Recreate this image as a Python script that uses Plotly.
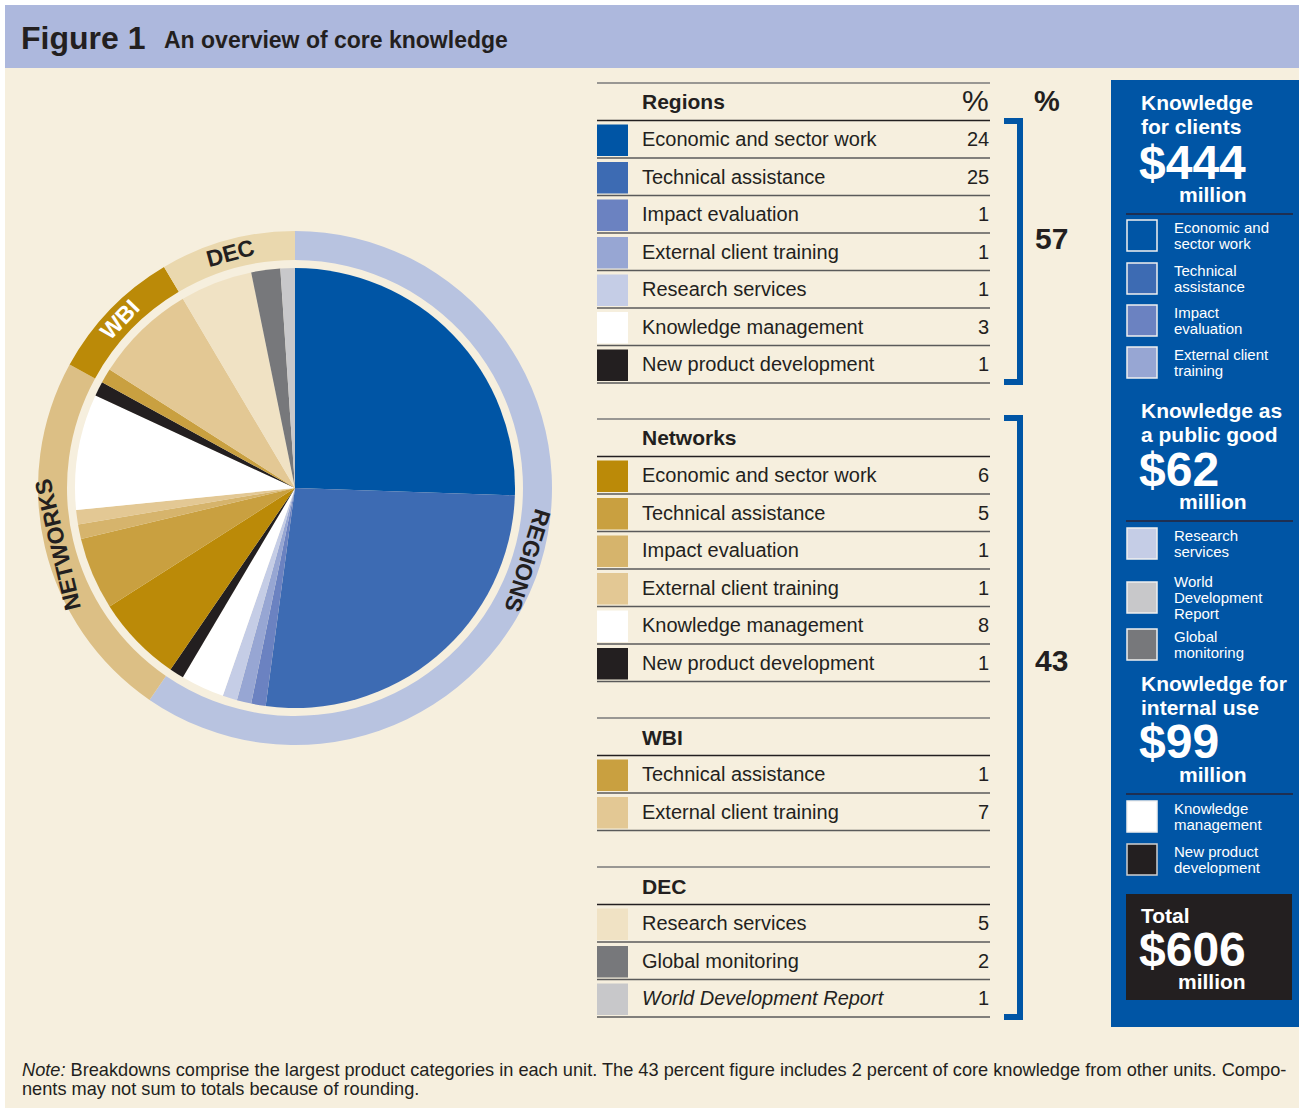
import plotly.graph_objects as go
import math

W, H = 1299, 1110

# ---------------- data ----------------
regions_items = ["Economic and sector work", "Technical assistance", "Impact evaluation",
                 "External client training", "Research services", "Knowledge management",
                 "New product development"]
regions_vals = [24, 25, 1, 1, 1, 3, 1]

networks_items = ["Economic and sector work", "Technical assistance", "Impact evaluation",
                  "External client training", "Knowledge management", "New product development"]
networks_vals = [6, 5, 1, 1, 8, 1]

wbi_items = ["Technical assistance", "External client training"]
wbi_vals = [1, 7]

dec_items = ["Research services", "Global monitoring", "<i>World Development Report</i>"]
dec_vals = [5, 2, 1]

group_names = ["Regions", "Networks", "WBI", "DEC"]
ring_labels = ["REGIONS", "NETWORKS", "WBI", "DEC"]
bracket_pcts = [57, 43]

panel_titles = [["Knowledge", "for clients"], ["Knowledge as", "a public good"],
                ["Knowledge for", "internal use"]]
panel_amounts = [444, 62, 99]
panel_items = [
    [["Economic and", "sector work"], ["Technical", "assistance"], ["Impact", "evaluation"],
     ["External client", "training"]],
    [["Research", "services"], ["World", "Development", "Report"], ["Global", "monitoring"]],
    [["Knowledge", "management"], ["New product", "development"]],
]
total_amount = 606

note_lines = [
    "<i>Note:</i> Breakdowns comprise the largest product categories in each unit. The 43 percent figure includes 2 percent of core knowledge from other units. Compo-",
    "nents may not sum to totals because of rounding.",
]

# ---------------- styles ----------------
BG = "#f6efde"
INK = "#231f20"
BLUE = "#0055a5"
SANS = "Liberation Sans, Arial, sans-serif"
NARROW = "Liberation Sans Narrow, Arial Narrow, Liberation Sans, sans-serif"

regions_colors = ["#0055a5", "#3d6bb3", "#6b82c1", "#97a6d3", "#c5cde6", "#ffffff", INK]
networks_colors = ["#bb8a08", "#c9a040", "#d6b46c", "#e3c894", "#ffffff", INK]
wbi_colors = ["#c9a040", "#e3c894"]
dec_colors = ["#f0e2c4", "#77787b", "#c8c8ca"]
ring_colors = ["#b8c3e0", "#dcbf85", "#bb8a08", "#ead8ae"]
ring_text_colors = [INK, INK, "#ffffff", INK]

panel_colors = [["#0055a5", "#3d6bb3", "#6b82c1", "#97a6d3"],
                ["#c5cde6", "#c8c8ca", "#77787b"],
                ["#ffffff", INK]]

def X(x):
    return x / W

def Y(y):
    return 1 - y / H

fig = go.Figure()
shapes = []
annos = []

def rect(x0, y0, x1, y1, fill, line=None, lw=0, layer="above"):
    shapes.append(dict(type="rect", xref="paper", yref="paper", x0=X(x0), x1=X(x1),
                       y0=Y(y1), y1=Y(y0), fillcolor=fill, layer=layer,
                       line=dict(color=line or fill, width=lw)))

def hline(x0, x1, y, color, lw):
    shapes.append(dict(type="line", xref="paper", yref="paper", x0=X(x0), x1=X(x1),
                       y0=Y(y), y1=Y(y), line=dict(color=color, width=lw)))

def txt(x, y, s, size, color=INK, bold=False, anchor="left", family=SANS, angle=0):
    if bold:
        s = "<b>" + s + "</b>"
    annos.append(dict(x=X(x), y=Y(y), xref="paper", yref="paper", text=s, showarrow=False,
                      xanchor=anchor, yanchor="middle", textangle=angle, borderpad=0,
                      font=dict(size=size, color=color, family=family)))

# ---------------- background ----------------
rect(5, 68, W, 1108, BG, layer="below")
rect(5, 5, W, 68, "#adb8dd", layer="below")
txt(20, 38, "Figure 1", 32, bold=True, family=NARROW)
txt(163, 40, "An overview of core knowledge", 23, bold=True, family=SANS)

# ---------------- pie ----------------
cx, cy = 295, 488
r_pie, r_in, r_out = 220, 228, 257

def dom(r):
    return dict(x=[X(cx - r), X(cx + r)], y=[Y(cy + r), Y(cy - r)])

all_groups = [
    (group_names[0], regions_items, regions_vals, regions_colors),
    (group_names[1], networks_items, networks_vals, networks_colors),
    (group_names[2], wbi_items, wbi_vals, wbi_colors),
    (group_names[3], dec_items, dec_vals, dec_colors),
]
pie_labels, pie_vals, pie_cols = [], [], []
for g, items, vals, cols in all_groups:
    for it, v, c in zip(items, vals, cols):
        pie_labels.append(g + ": " + it)
        pie_vals.append(v)
        pie_cols.append(c)

fig.add_trace(go.Pie(values=pie_vals, labels=pie_labels, sort=False, direction="clockwise",
                     rotation=0, textinfo="none", domain=dom(r_pie), showlegend=False,
                     marker=dict(colors=pie_cols, line=dict(width=0))))

ring_vals = [sum(g[2]) for g in all_groups]
fig.add_trace(go.Pie(values=ring_vals, labels=group_names, sort=False, direction="clockwise",
                     rotation=0, textinfo="none", domain=dom(r_out), hole=r_in / r_out,
                     showlegend=False, marker=dict(colors=ring_colors, line=dict(width=0))))

# ring labels, placed at each ring segment's mid-angle
tot = sum(ring_vals)
cum = 0
r_mid = (r_in + r_out) / 2 + 1
for lab, v, tc in zip(ring_labels, ring_vals, ring_text_colors):
    theta = (cum + v / 2) / tot * 360
    cum += v
    px = cx + r_mid * math.sin(math.radians(theta))
    py = cy - r_mid * math.cos(math.radians(theta))
    ang = theta if theta <= 180 else theta - 360
    txt(px, py, lab, 23, color=tc, bold=True, anchor="center", angle=ang)

# ---------------- table ----------------
tops = [83, 419, 718, 867]
row_h = 37.5
for (g, items, vals, cols), top in zip(all_groups, tops):
    hline(597, 990, top, "#7a7a7a", 1.5)
    hdr = top + 37.5
    txt(641, top + 19, g, 21, bold=True)
    hline(597, 990, hdr, INK, 1.5)
    for i, (it, v, c) in enumerate(zip(items, vals, cols)):
        y0 = hdr + row_h * i
        y1 = y0 + row_h
        rect(597, y0 + 4, 628, y1 - 2, c)
        txt(641, (y0 + y1) / 2, it, 20)
        txt(990, (y0 + y1) / 2, str(v), 20, anchor="right")
        hline(597, 990, y1, "#5a5a5a", 1.3)
txt(990, 101, "%", 30, anchor="right")

# brackets
txt(1047, 101, "%", 29, bold=True, anchor="center")
brackets = [(120, 383, 238), (417, 1018, 660)]
for (b0, b1, ly), pct in zip(brackets, bracket_pcts):
    shapes.append(dict(type="path", xref="paper", yref="paper",
                       path=f"M {X(1004)},{Y(b0+1)} L {X(1020)},{Y(b0+1)} L {X(1020)},{Y(b1-1)} L {X(1004)},{Y(b1-1)}",
                       line=dict(color=BLUE, width=6)))
    txt(1051, ly, str(pct), 30, bold=True, anchor="center")

# ---------------- right panel ----------------
rect(1111, 80, W, 1027, BLUE, layer="below")
sec_tops = [103, 410, 683]
sq_tops = [[220, 263, 305, 347], [528, 582, 629], [801, 844]]
for k in range(3):
    t = sec_tops[k]
    txt(1140, t, panel_titles[k][0], 21, color="white", bold=True)
    txt(1140, t + 24, panel_titles[k][1], 21, color="white", bold=True)
    txt(1138, t + 59, "$" + str(panel_amounts[k]), 48, color="white", bold=True, family=NARROW)
    txt(1178, t + 91, "million", 21, color="white", bold=True)
    hline(1126, 1293, t + 111, "#1e2f52", 2)
    for j, (lines, col) in enumerate(zip(panel_items[k], panel_colors[k])):
        s0 = sq_tops[k][j]
        rect(1127, s0, 1157, s0 + 31, col, line="#f0f0f0" if col != INK else "#d0d0d0", lw=1.5)
        n = len(lines)
        for m, ln in enumerate(lines):
            yy = s0 + 15.5 + (m - (n - 1) / 2) * 16
            txt(1173, yy, ln, 15, color="white")

rect(1126, 894, 1292, 1000, INK)
txt(1140, 915, "Total", 21, color="white", bold=True)
txt(1138, 949, "$" + str(total_amount), 48, color="white", bold=True, family=NARROW)
txt(1177, 981, "million", 21, color="white", bold=True)

# ---------------- note ----------------
txt(21, 1070, note_lines[0], 18.2, family=NARROW)
txt(21, 1089, note_lines[1], 18.2, family=NARROW)

fig.update_layout(width=W, height=H, margin=dict(l=0, r=0, t=0, b=0),
                  paper_bgcolor="white", plot_bgcolor="white",
                  shapes=shapes, annotations=annos, showlegend=False)
fig.write_html("out.html", config={"displayModeBar": False},
               post_script="document.body.style.margin='0';")
